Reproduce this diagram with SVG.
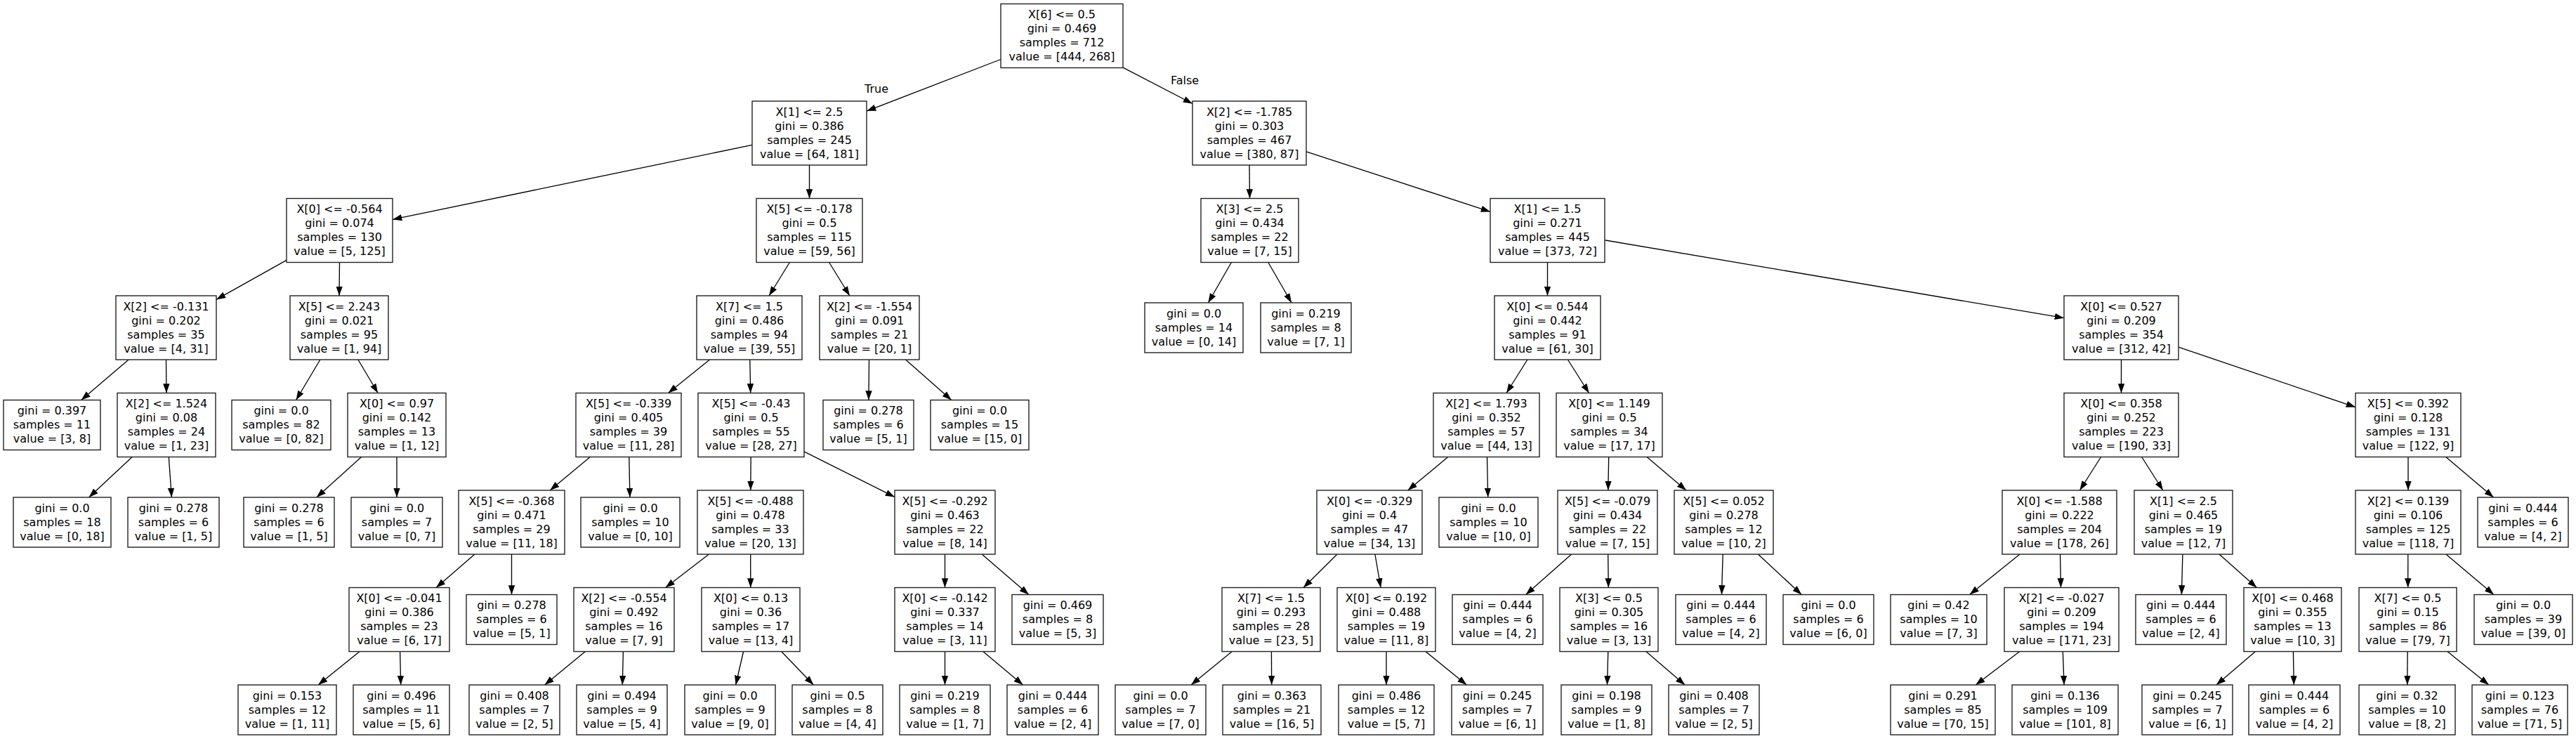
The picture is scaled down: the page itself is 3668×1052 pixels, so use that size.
<svg xmlns="http://www.w3.org/2000/svg" width="3668" height="1052" viewBox="0 0 3668 1052">
<style>
.n rect{fill:#fff;stroke:#222;stroke-width:1.4}
.t{font-family:"DejaVu Sans","Liberation Sans",sans-serif;font-size:16px;text-anchor:middle;fill:#000}
.e path{fill:none;stroke:#000;stroke-width:1.33;marker-end:url(#ah)}
</style>
<defs>
<marker id="ah" markerUnits="userSpaceOnUse" viewBox="0 0 14 10" markerWidth="14" markerHeight="10" refX="13.3" refY="5" orient="auto">
<path d="M0,0.3 L13.3,5 L0,9.7 z" fill="#000"/>
</marker>
</defs>
<rect width="3668" height="1052" fill="#fff"/>
<g id="edges" class="e">
<path d="M1425,84.5 L1234,158.1"/>
<path d="M1599,96.1 L1698,147.5"/>
<path d="M1071,206.4 L559,312.4"/>
<path d="M1152.5,235 L1152.5,282.5"/>
<path d="M408,370.3 L308,426.4"/>
<path d="M483.5,373.5 L483,421"/>
<path d="M183.1,512 L115.7,569.5"/>
<path d="M236.5,512 L237,559.5"/>
<path d="M188.2,650.5 L126.6,708"/>
<path d="M240.3,650.5 L244.4,708"/>
<path d="M455.9,512 L421.6,569.5"/>
<path d="M509.9,512 L538.1,559.5"/>
<path d="M514.6,650.5 L450.8,708"/>
<path d="M565,650.5 L565,708"/>
<path d="M1124.4,373.5 L1095.1,421"/>
<path d="M1180.6,373.5 L1209.9,421"/>
<path d="M1010.5,512 L951.5,559.5"/>
<path d="M1067.8,512 L1068.7,559.5"/>
<path d="M840.3,650.5 L783.2,698"/>
<path d="M895.8,650.5 L896.9,708"/>
<path d="M675.9,789 L621.1,836.5"/>
<path d="M728.5,789 L728.5,846.5"/>
<path d="M512,927.5 L453.1,975"/>
<path d="M569.6,927.5 L570.7,975"/>
<path d="M1069.2,650.5 L1068.8,698"/>
<path d="M1145,642.9 L1274,707.6"/>
<path d="M1009.4,789 L947.6,836.5"/>
<path d="M1068.7,789 L1068.8,836.5"/>
<path d="M833.3,927.5 L775.6,975"/>
<path d="M887.4,927.5 L886.3,975"/>
<path d="M1058.6,927.5 L1047.6,975"/>
<path d="M1112.7,927.5 L1158.4,975"/>
<path d="M1345.5,789 L1345.5,836.5"/>
<path d="M1398.2,789 L1464.9,846.5"/>
<path d="M1345.5,927.5 L1345.5,975"/>
<path d="M1399.9,927.5 L1456.6,975"/>
<path d="M1237.5,512 L1236.9,569.5"/>
<path d="M1289.6,512 L1354.8,569.5"/>
<path d="M1779,235 L1779.5,282.5"/>
<path d="M1860,215.9 L2122,301.4"/>
<path d="M1753.4,373.5 L1720.4,431"/>
<path d="M1805.8,373.5 L1839,431"/>
<path d="M2203.5,373.5 L2203.5,421"/>
<path d="M2285,341.8 L2939,452.7"/>
<path d="M2174.9,512 L2145.1,559.5"/>
<path d="M2232.4,512 L2262.6,559.5"/>
<path d="M2061.8,650.5 L2004.7,698"/>
<path d="M2117.5,650.5 L2118.7,708"/>
<path d="M1904,789 L1856,836.5"/>
<path d="M1957.9,789 L1966.1,836.5"/>
<path d="M1754.2,927.5 L1696,975"/>
<path d="M1810.4,927.5 L1810.7,975"/>
<path d="M1974,927.5 L1974,975"/>
<path d="M2029.9,927.5 L2088.4,975"/>
<path d="M2290.7,650.5 L2289.8,698"/>
<path d="M2345,650.5 L2401,698"/>
<path d="M2237.6,789 L2172.6,846.5"/>
<path d="M2289.7,789 L2290.3,836.5"/>
<path d="M2289.8,927.5 L2288.5,975"/>
<path d="M2343.9,927.5 L2399.2,975"/>
<path d="M2453.2,789 L2451.5,846.5"/>
<path d="M2503.4,789 L2565.3,846.5"/>
<path d="M3020.5,512 L3020.5,559.5"/>
<path d="M3102,494.1 L3354,579.6"/>
<path d="M2991.6,650.5 L2961.4,698"/>
<path d="M3049.6,650.5 L3079.9,698"/>
<path d="M2876,789 L2804.6,846.5"/>
<path d="M2933.5,789 L2934.5,836.5"/>
<path d="M2875.7,927.5 L2813.2,975"/>
<path d="M2937.3,927.5 L2939.1,975"/>
<path d="M3107.9,789 L3106.4,846.5"/>
<path d="M3160.1,789 L3213.4,836.5"/>
<path d="M3211.4,927.5 L3155.9,975"/>
<path d="M3265.4,927.5 L3266.3,975"/>
<path d="M3429,650.5 L3429,698"/>
<path d="M3482.7,650.5 L3550.6,708"/>
<path d="M3428.8,789 L3428.7,836.5"/>
<path d="M3482.9,789 L3551,846.5"/>
<path d="M3428.1,927.5 L3427.8,975"/>
<path d="M3485,927.5 L3543.9,975"/>
</g>
<g id="edge-labels" class="t">
<text x="1248" y="132">True</text>
<text x="1687" y="120">False</text>
</g>
<g id="node0" class="n"><rect x="1425" y="5.5" width="174" height="91"/><text class="t" x="1512" y="26"><tspan x="1512">X[6] &lt;= 0.5</tspan><tspan x="1512" dy="20">gini = 0.469</tspan><tspan x="1512" dy="20">samples = 712</tspan><tspan x="1512" dy="20">value = [444, 268]</tspan></text></g>
<g id="node1" class="n"><rect x="1071" y="144" width="163" height="91"/><text class="t" x="1152.5" y="164.5"><tspan x="1152.5">X[1] &lt;= 2.5</tspan><tspan x="1152.5" dy="20">gini = 0.386</tspan><tspan x="1152.5" dy="20">samples = 245</tspan><tspan x="1152.5" dy="20">value = [64, 181]</tspan></text></g>
<g id="node2" class="n"><rect x="408" y="282.5" width="151" height="91"/><text class="t" x="483.5" y="303"><tspan x="483.5">X[0] &lt;= -0.564</tspan><tspan x="483.5" dy="20">gini = 0.074</tspan><tspan x="483.5" dy="20">samples = 130</tspan><tspan x="483.5" dy="20">value = [5, 125]</tspan></text></g>
<g id="node3" class="n"><rect x="165" y="421" width="143" height="91"/><text class="t" x="236.5" y="441.5"><tspan x="236.5">X[2] &lt;= -0.131</tspan><tspan x="236.5" dy="20">gini = 0.202</tspan><tspan x="236.5" dy="20">samples = 35</tspan><tspan x="236.5" dy="20">value = [4, 31]</tspan></text></g>
<g id="node4" class="n"><rect x="5" y="569.5" width="138" height="71"/><text class="t" x="74" y="590"><tspan x="74">gini = 0.397</tspan><tspan x="74" dy="20">samples = 11</tspan><tspan x="74" dy="20">value = [3, 8]</tspan></text></g>
<g id="node5" class="n"><rect x="167" y="559.5" width="140" height="91"/><text class="t" x="237" y="580"><tspan x="237">X[2] &lt;= 1.524</tspan><tspan x="237" dy="20">gini = 0.08</tspan><tspan x="237" dy="20">samples = 24</tspan><tspan x="237" dy="20">value = [1, 23]</tspan></text></g>
<g id="node6" class="n"><rect x="19" y="708" width="139" height="71"/><text class="t" x="88.5" y="728.5"><tspan x="88.5">gini = 0.0</tspan><tspan x="88.5" dy="20">samples = 18</tspan><tspan x="88.5" dy="20">value = [0, 18]</tspan></text></g>
<g id="node7" class="n"><rect x="182" y="708" width="130" height="71"/><text class="t" x="247" y="728.5"><tspan x="247">gini = 0.278</tspan><tspan x="247" dy="20">samples = 6</tspan><tspan x="247" dy="20">value = [1, 5]</tspan></text></g>
<g id="node8" class="n"><rect x="413" y="421" width="140" height="91"/><text class="t" x="483" y="441.5"><tspan x="483">X[5] &lt;= 2.243</tspan><tspan x="483" dy="20">gini = 0.021</tspan><tspan x="483" dy="20">samples = 95</tspan><tspan x="483" dy="20">value = [1, 94]</tspan></text></g>
<g id="node9" class="n"><rect x="330" y="569.5" width="141" height="71"/><text class="t" x="400.5" y="590"><tspan x="400.5">gini = 0.0</tspan><tspan x="400.5" dy="20">samples = 82</tspan><tspan x="400.5" dy="20">value = [0, 82]</tspan></text></g>
<g id="node10" class="n"><rect x="495" y="559.5" width="140" height="91"/><text class="t" x="565" y="580"><tspan x="565">X[0] &lt;= 0.97</tspan><tspan x="565" dy="20">gini = 0.142</tspan><tspan x="565" dy="20">samples = 13</tspan><tspan x="565" dy="20">value = [1, 12]</tspan></text></g>
<g id="node11" class="n"><rect x="347" y="708" width="129" height="71"/><text class="t" x="411.5" y="728.5"><tspan x="411.5">gini = 0.278</tspan><tspan x="411.5" dy="20">samples = 6</tspan><tspan x="411.5" dy="20">value = [1, 5]</tspan></text></g>
<g id="node12" class="n"><rect x="500" y="708" width="130" height="71"/><text class="t" x="565" y="728.5"><tspan x="565">gini = 0.0</tspan><tspan x="565" dy="20">samples = 7</tspan><tspan x="565" dy="20">value = [0, 7]</tspan></text></g>
<g id="node13" class="n"><rect x="1077" y="282.5" width="151" height="91"/><text class="t" x="1152.5" y="303"><tspan x="1152.5">X[5] &lt;= -0.178</tspan><tspan x="1152.5" dy="20">gini = 0.5</tspan><tspan x="1152.5" dy="20">samples = 115</tspan><tspan x="1152.5" dy="20">value = [59, 56]</tspan></text></g>
<g id="node14" class="n"><rect x="992" y="421" width="150" height="91"/><text class="t" x="1067" y="441.5"><tspan x="1067">X[7] &lt;= 1.5</tspan><tspan x="1067" dy="20">gini = 0.486</tspan><tspan x="1067" dy="20">samples = 94</tspan><tspan x="1067" dy="20">value = [39, 55]</tspan></text></g>
<g id="node15" class="n"><rect x="820" y="559.5" width="150" height="91"/><text class="t" x="895" y="580"><tspan x="895">X[5] &lt;= -0.339</tspan><tspan x="895" dy="20">gini = 0.405</tspan><tspan x="895" dy="20">samples = 39</tspan><tspan x="895" dy="20">value = [11, 28]</tspan></text></g>
<g id="node16" class="n"><rect x="653" y="698" width="151" height="91"/><text class="t" x="728.5" y="718.5"><tspan x="728.5">X[5] &lt;= -0.368</tspan><tspan x="728.5" dy="20">gini = 0.471</tspan><tspan x="728.5" dy="20">samples = 29</tspan><tspan x="728.5" dy="20">value = [11, 18]</tspan></text></g>
<g id="node17" class="n"><rect x="497" y="836.5" width="143" height="91"/><text class="t" x="568.5" y="857"><tspan x="568.5">X[0] &lt;= -0.041</tspan><tspan x="568.5" dy="20">gini = 0.386</tspan><tspan x="568.5" dy="20">samples = 23</tspan><tspan x="568.5" dy="20">value = [6, 17]</tspan></text></g>
<g id="node18" class="n"><rect x="339" y="975" width="140" height="71"/><text class="t" x="409" y="995.5"><tspan x="409">gini = 0.153</tspan><tspan x="409" dy="20">samples = 12</tspan><tspan x="409" dy="20">value = [1, 11]</tspan></text></g>
<g id="node19" class="n"><rect x="503" y="975" width="137" height="71"/><text class="t" x="571.5" y="995.5"><tspan x="571.5">gini = 0.496</tspan><tspan x="571.5" dy="20">samples = 11</tspan><tspan x="571.5" dy="20">value = [5, 6]</tspan></text></g>
<g id="node20" class="n"><rect x="664" y="846.5" width="129" height="71"/><text class="t" x="728.5" y="867"><tspan x="728.5">gini = 0.278</tspan><tspan x="728.5" dy="20">samples = 6</tspan><tspan x="728.5" dy="20">value = [5, 1]</tspan></text></g>
<g id="node21" class="n"><rect x="827" y="708" width="141" height="71"/><text class="t" x="897.5" y="728.5"><tspan x="897.5">gini = 0.0</tspan><tspan x="897.5" dy="20">samples = 10</tspan><tspan x="897.5" dy="20">value = [0, 10]</tspan></text></g>
<g id="node22" class="n"><rect x="994" y="559.5" width="151" height="91"/><text class="t" x="1069.5" y="580"><tspan x="1069.5">X[5] &lt;= -0.43</tspan><tspan x="1069.5" dy="20">gini = 0.5</tspan><tspan x="1069.5" dy="20">samples = 55</tspan><tspan x="1069.5" dy="20">value = [28, 27]</tspan></text></g>
<g id="node23" class="n"><rect x="993" y="698" width="151" height="91"/><text class="t" x="1068.5" y="718.5"><tspan x="1068.5">X[5] &lt;= -0.488</tspan><tspan x="1068.5" dy="20">gini = 0.478</tspan><tspan x="1068.5" dy="20">samples = 33</tspan><tspan x="1068.5" dy="20">value = [20, 13]</tspan></text></g>
<g id="node24" class="n"><rect x="817" y="836.5" width="143" height="91"/><text class="t" x="888.5" y="857"><tspan x="888.5">X[2] &lt;= -0.554</tspan><tspan x="888.5" dy="20">gini = 0.492</tspan><tspan x="888.5" dy="20">samples = 16</tspan><tspan x="888.5" dy="20">value = [7, 9]</tspan></text></g>
<g id="node25" class="n"><rect x="668" y="975" width="129" height="71"/><text class="t" x="732.5" y="995.5"><tspan x="732.5">gini = 0.408</tspan><tspan x="732.5" dy="20">samples = 7</tspan><tspan x="732.5" dy="20">value = [2, 5]</tspan></text></g>
<g id="node26" class="n"><rect x="821" y="975" width="129" height="71"/><text class="t" x="885.5" y="995.5"><tspan x="885.5">gini = 0.494</tspan><tspan x="885.5" dy="20">samples = 9</tspan><tspan x="885.5" dy="20">value = [5, 4]</tspan></text></g>
<g id="node27" class="n"><rect x="999" y="836.5" width="140" height="91"/><text class="t" x="1069" y="857"><tspan x="1069">X[0] &lt;= 0.13</tspan><tspan x="1069" dy="20">gini = 0.36</tspan><tspan x="1069" dy="20">samples = 17</tspan><tspan x="1069" dy="20">value = [13, 4]</tspan></text></g>
<g id="node28" class="n"><rect x="975" y="975" width="129" height="71"/><text class="t" x="1039.5" y="995.5"><tspan x="1039.5">gini = 0.0</tspan><tspan x="1039.5" dy="20">samples = 9</tspan><tspan x="1039.5" dy="20">value = [9, 0]</tspan></text></g>
<g id="node29" class="n"><rect x="1128" y="975" width="129" height="71"/><text class="t" x="1192.5" y="995.5"><tspan x="1192.5">gini = 0.5</tspan><tspan x="1192.5" dy="20">samples = 8</tspan><tspan x="1192.5" dy="20">value = [4, 4]</tspan></text></g>
<g id="node30" class="n"><rect x="1274" y="698" width="143" height="91"/><text class="t" x="1345.5" y="718.5"><tspan x="1345.5">X[5] &lt;= -0.292</tspan><tspan x="1345.5" dy="20">gini = 0.463</tspan><tspan x="1345.5" dy="20">samples = 22</tspan><tspan x="1345.5" dy="20">value = [8, 14]</tspan></text></g>
<g id="node31" class="n"><rect x="1274" y="836.5" width="143" height="91"/><text class="t" x="1345.5" y="857"><tspan x="1345.5">X[0] &lt;= -0.142</tspan><tspan x="1345.5" dy="20">gini = 0.337</tspan><tspan x="1345.5" dy="20">samples = 14</tspan><tspan x="1345.5" dy="20">value = [3, 11]</tspan></text></g>
<g id="node32" class="n"><rect x="1281" y="975" width="129" height="71"/><text class="t" x="1345.5" y="995.5"><tspan x="1345.5">gini = 0.219</tspan><tspan x="1345.5" dy="20">samples = 8</tspan><tspan x="1345.5" dy="20">value = [1, 7]</tspan></text></g>
<g id="node33" class="n"><rect x="1434" y="975" width="130" height="71"/><text class="t" x="1499" y="995.5"><tspan x="1499">gini = 0.444</tspan><tspan x="1499" dy="20">samples = 6</tspan><tspan x="1499" dy="20">value = [2, 4]</tspan></text></g>
<g id="node34" class="n"><rect x="1441" y="846.5" width="130" height="71"/><text class="t" x="1506" y="867"><tspan x="1506">gini = 0.469</tspan><tspan x="1506" dy="20">samples = 8</tspan><tspan x="1506" dy="20">value = [5, 3]</tspan></text></g>
<g id="node35" class="n"><rect x="1167" y="421" width="142" height="91"/><text class="t" x="1238" y="441.5"><tspan x="1238">X[2] &lt;= -1.554</tspan><tspan x="1238" dy="20">gini = 0.091</tspan><tspan x="1238" dy="20">samples = 21</tspan><tspan x="1238" dy="20">value = [20, 1]</tspan></text></g>
<g id="node36" class="n"><rect x="1172" y="569.5" width="129" height="71"/><text class="t" x="1236.5" y="590"><tspan x="1236.5">gini = 0.278</tspan><tspan x="1236.5" dy="20">samples = 6</tspan><tspan x="1236.5" dy="20">value = [5, 1]</tspan></text></g>
<g id="node37" class="n"><rect x="1325" y="569.5" width="140" height="71"/><text class="t" x="1395" y="590"><tspan x="1395">gini = 0.0</tspan><tspan x="1395" dy="20">samples = 15</tspan><tspan x="1395" dy="20">value = [15, 0]</tspan></text></g>
<g id="node38" class="n"><rect x="1698" y="144" width="162" height="91"/><text class="t" x="1779" y="164.5"><tspan x="1779">X[2] &lt;= -1.785</tspan><tspan x="1779" dy="20">gini = 0.303</tspan><tspan x="1779" dy="20">samples = 467</tspan><tspan x="1779" dy="20">value = [380, 87]</tspan></text></g>
<g id="node39" class="n"><rect x="1710" y="282.5" width="139" height="91"/><text class="t" x="1779.5" y="303"><tspan x="1779.5">X[3] &lt;= 2.5</tspan><tspan x="1779.5" dy="20">gini = 0.434</tspan><tspan x="1779.5" dy="20">samples = 22</tspan><tspan x="1779.5" dy="20">value = [7, 15]</tspan></text></g>
<g id="node40" class="n"><rect x="1630" y="431" width="140" height="71"/><text class="t" x="1700" y="451.5"><tspan x="1700">gini = 0.0</tspan><tspan x="1700" dy="20">samples = 14</tspan><tspan x="1700" dy="20">value = [0, 14]</tspan></text></g>
<g id="node41" class="n"><rect x="1795" y="431" width="129" height="71"/><text class="t" x="1859.5" y="451.5"><tspan x="1859.5">gini = 0.219</tspan><tspan x="1859.5" dy="20">samples = 8</tspan><tspan x="1859.5" dy="20">value = [7, 1]</tspan></text></g>
<g id="node42" class="n"><rect x="2122" y="282.5" width="163" height="91"/><text class="t" x="2203.5" y="303"><tspan x="2203.5">X[1] &lt;= 1.5</tspan><tspan x="2203.5" dy="20">gini = 0.271</tspan><tspan x="2203.5" dy="20">samples = 445</tspan><tspan x="2203.5" dy="20">value = [373, 72]</tspan></text></g>
<g id="node43" class="n"><rect x="2128" y="421" width="151" height="91"/><text class="t" x="2203.5" y="441.5"><tspan x="2203.5">X[0] &lt;= 0.544</tspan><tspan x="2203.5" dy="20">gini = 0.442</tspan><tspan x="2203.5" dy="20">samples = 91</tspan><tspan x="2203.5" dy="20">value = [61, 30]</tspan></text></g>
<g id="node44" class="n"><rect x="2041" y="559.5" width="151" height="91"/><text class="t" x="2116.5" y="580"><tspan x="2116.5">X[2] &lt;= 1.793</tspan><tspan x="2116.5" dy="20">gini = 0.352</tspan><tspan x="2116.5" dy="20">samples = 57</tspan><tspan x="2116.5" dy="20">value = [44, 13]</tspan></text></g>
<g id="node45" class="n"><rect x="1875" y="698" width="150" height="91"/><text class="t" x="1950" y="718.5"><tspan x="1950">X[0] &lt;= -0.329</tspan><tspan x="1950" dy="20">gini = 0.4</tspan><tspan x="1950" dy="20">samples = 47</tspan><tspan x="1950" dy="20">value = [34, 13]</tspan></text></g>
<g id="node46" class="n"><rect x="1740" y="836.5" width="140" height="91"/><text class="t" x="1810" y="857"><tspan x="1810">X[7] &lt;= 1.5</tspan><tspan x="1810" dy="20">gini = 0.293</tspan><tspan x="1810" dy="20">samples = 28</tspan><tspan x="1810" dy="20">value = [23, 5]</tspan></text></g>
<g id="node47" class="n"><rect x="1588" y="975" width="129" height="71"/><text class="t" x="1652.5" y="995.5"><tspan x="1652.5">gini = 0.0</tspan><tspan x="1652.5" dy="20">samples = 7</tspan><tspan x="1652.5" dy="20">value = [7, 0]</tspan></text></g>
<g id="node48" class="n"><rect x="1741" y="975" width="140" height="71"/><text class="t" x="1811" y="995.5"><tspan x="1811">gini = 0.363</tspan><tspan x="1811" dy="20">samples = 21</tspan><tspan x="1811" dy="20">value = [16, 5]</tspan></text></g>
<g id="node49" class="n"><rect x="1904" y="836.5" width="140" height="91"/><text class="t" x="1974" y="857"><tspan x="1974">X[0] &lt;= 0.192</tspan><tspan x="1974" dy="20">gini = 0.488</tspan><tspan x="1974" dy="20">samples = 19</tspan><tspan x="1974" dy="20">value = [11, 8]</tspan></text></g>
<g id="node50" class="n"><rect x="1906" y="975" width="136" height="71"/><text class="t" x="1974" y="995.5"><tspan x="1974">gini = 0.486</tspan><tspan x="1974" dy="20">samples = 12</tspan><tspan x="1974" dy="20">value = [5, 7]</tspan></text></g>
<g id="node51" class="n"><rect x="2067" y="975" width="130" height="71"/><text class="t" x="2132" y="995.5"><tspan x="2132">gini = 0.245</tspan><tspan x="2132" dy="20">samples = 7</tspan><tspan x="2132" dy="20">value = [6, 1]</tspan></text></g>
<g id="node52" class="n"><rect x="2049" y="708" width="141" height="71"/><text class="t" x="2119.5" y="728.5"><tspan x="2119.5">gini = 0.0</tspan><tspan x="2119.5" dy="20">samples = 10</tspan><tspan x="2119.5" dy="20">value = [10, 0]</tspan></text></g>
<g id="node53" class="n"><rect x="2216" y="559.5" width="151" height="91"/><text class="t" x="2291.5" y="580"><tspan x="2291.5">X[0] &lt;= 1.149</tspan><tspan x="2291.5" dy="20">gini = 0.5</tspan><tspan x="2291.5" dy="20">samples = 34</tspan><tspan x="2291.5" dy="20">value = [17, 17]</tspan></text></g>
<g id="node54" class="n"><rect x="2218" y="698" width="142" height="91"/><text class="t" x="2289" y="718.5"><tspan x="2289">X[5] &lt;= -0.079</tspan><tspan x="2289" dy="20">gini = 0.434</tspan><tspan x="2289" dy="20">samples = 22</tspan><tspan x="2289" dy="20">value = [7, 15]</tspan></text></g>
<g id="node55" class="n"><rect x="2068" y="846.5" width="129" height="71"/><text class="t" x="2132.5" y="867"><tspan x="2132.5">gini = 0.444</tspan><tspan x="2132.5" dy="20">samples = 6</tspan><tspan x="2132.5" dy="20">value = [4, 2]</tspan></text></g>
<g id="node56" class="n"><rect x="2221" y="836.5" width="140" height="91"/><text class="t" x="2291" y="857"><tspan x="2291">X[3] &lt;= 0.5</tspan><tspan x="2291" dy="20">gini = 0.305</tspan><tspan x="2291" dy="20">samples = 16</tspan><tspan x="2291" dy="20">value = [3, 13]</tspan></text></g>
<g id="node57" class="n"><rect x="2223" y="975" width="129" height="71"/><text class="t" x="2287.5" y="995.5"><tspan x="2287.5">gini = 0.198</tspan><tspan x="2287.5" dy="20">samples = 9</tspan><tspan x="2287.5" dy="20">value = [1, 8]</tspan></text></g>
<g id="node58" class="n"><rect x="2376" y="975" width="129" height="71"/><text class="t" x="2440.5" y="995.5"><tspan x="2440.5">gini = 0.408</tspan><tspan x="2440.5" dy="20">samples = 7</tspan><tspan x="2440.5" dy="20">value = [2, 5]</tspan></text></g>
<g id="node59" class="n"><rect x="2384" y="698" width="141" height="91"/><text class="t" x="2454.5" y="718.5"><tspan x="2454.5">X[5] &lt;= 0.052</tspan><tspan x="2454.5" dy="20">gini = 0.278</tspan><tspan x="2454.5" dy="20">samples = 12</tspan><tspan x="2454.5" dy="20">value = [10, 2]</tspan></text></g>
<g id="node60" class="n"><rect x="2386" y="846.5" width="129" height="71"/><text class="t" x="2450.5" y="867"><tspan x="2450.5">gini = 0.444</tspan><tspan x="2450.5" dy="20">samples = 6</tspan><tspan x="2450.5" dy="20">value = [4, 2]</tspan></text></g>
<g id="node61" class="n"><rect x="2539" y="846.5" width="129" height="71"/><text class="t" x="2603.5" y="867"><tspan x="2603.5">gini = 0.0</tspan><tspan x="2603.5" dy="20">samples = 6</tspan><tspan x="2603.5" dy="20">value = [6, 0]</tspan></text></g>
<g id="node62" class="n"><rect x="2939" y="421" width="163" height="91"/><text class="t" x="3020.5" y="441.5"><tspan x="3020.5">X[0] &lt;= 0.527</tspan><tspan x="3020.5" dy="20">gini = 0.209</tspan><tspan x="3020.5" dy="20">samples = 354</tspan><tspan x="3020.5" dy="20">value = [312, 42]</tspan></text></g>
<g id="node63" class="n"><rect x="2939" y="559.5" width="163" height="91"/><text class="t" x="3020.5" y="580"><tspan x="3020.5">X[0] &lt;= 0.358</tspan><tspan x="3020.5" dy="20">gini = 0.252</tspan><tspan x="3020.5" dy="20">samples = 223</tspan><tspan x="3020.5" dy="20">value = [190, 33]</tspan></text></g>
<g id="node64" class="n"><rect x="2851" y="698" width="163" height="91"/><text class="t" x="2932.5" y="718.5"><tspan x="2932.5">X[0] &lt;= -1.588</tspan><tspan x="2932.5" dy="20">gini = 0.222</tspan><tspan x="2932.5" dy="20">samples = 204</tspan><tspan x="2932.5" dy="20">value = [178, 26]</tspan></text></g>
<g id="node65" class="n"><rect x="2692" y="846.5" width="137" height="71"/><text class="t" x="2760.5" y="867"><tspan x="2760.5">gini = 0.42</tspan><tspan x="2760.5" dy="20">samples = 10</tspan><tspan x="2760.5" dy="20">value = [7, 3]</tspan></text></g>
<g id="node66" class="n"><rect x="2854" y="836.5" width="163" height="91"/><text class="t" x="2935.5" y="857"><tspan x="2935.5">X[2] &lt;= -0.027</tspan><tspan x="2935.5" dy="20">gini = 0.209</tspan><tspan x="2935.5" dy="20">samples = 194</tspan><tspan x="2935.5" dy="20">value = [171, 23]</tspan></text></g>
<g id="node67" class="n"><rect x="2692" y="975" width="149" height="71"/><text class="t" x="2766.5" y="995.5"><tspan x="2766.5">gini = 0.291</tspan><tspan x="2766.5" dy="20">samples = 85</tspan><tspan x="2766.5" dy="20">value = [70, 15]</tspan></text></g>
<g id="node68" class="n"><rect x="2865" y="975" width="151" height="71"/><text class="t" x="2940.5" y="995.5"><tspan x="2940.5">gini = 0.136</tspan><tspan x="2940.5" dy="20">samples = 109</tspan><tspan x="2940.5" dy="20">value = [101, 8]</tspan></text></g>
<g id="node69" class="n"><rect x="3039" y="698" width="140" height="91"/><text class="t" x="3109" y="718.5"><tspan x="3109">X[1] &lt;= 2.5</tspan><tspan x="3109" dy="20">gini = 0.465</tspan><tspan x="3109" dy="20">samples = 19</tspan><tspan x="3109" dy="20">value = [12, 7]</tspan></text></g>
<g id="node70" class="n"><rect x="3041" y="846.5" width="129" height="71"/><text class="t" x="3105.5" y="867"><tspan x="3105.5">gini = 0.444</tspan><tspan x="3105.5" dy="20">samples = 6</tspan><tspan x="3105.5" dy="20">value = [2, 4]</tspan></text></g>
<g id="node71" class="n"><rect x="3195" y="836.5" width="139" height="91"/><text class="t" x="3264.5" y="857"><tspan x="3264.5">X[0] &lt;= 0.468</tspan><tspan x="3264.5" dy="20">gini = 0.355</tspan><tspan x="3264.5" dy="20">samples = 13</tspan><tspan x="3264.5" dy="20">value = [10, 3]</tspan></text></g>
<g id="node72" class="n"><rect x="3050" y="975" width="129" height="71"/><text class="t" x="3114.5" y="995.5"><tspan x="3114.5">gini = 0.245</tspan><tspan x="3114.5" dy="20">samples = 7</tspan><tspan x="3114.5" dy="20">value = [6, 1]</tspan></text></g>
<g id="node73" class="n"><rect x="3202" y="975" width="130" height="71"/><text class="t" x="3267" y="995.5"><tspan x="3267">gini = 0.444</tspan><tspan x="3267" dy="20">samples = 6</tspan><tspan x="3267" dy="20">value = [4, 2]</tspan></text></g>
<g id="node74" class="n"><rect x="3354" y="559.5" width="150" height="91"/><text class="t" x="3429" y="580"><tspan x="3429">X[5] &lt;= 0.392</tspan><tspan x="3429" dy="20">gini = 0.128</tspan><tspan x="3429" dy="20">samples = 131</tspan><tspan x="3429" dy="20">value = [122, 9]</tspan></text></g>
<g id="node75" class="n"><rect x="3354" y="698" width="150" height="91"/><text class="t" x="3429" y="718.5"><tspan x="3429">X[2] &lt;= 0.139</tspan><tspan x="3429" dy="20">gini = 0.106</tspan><tspan x="3429" dy="20">samples = 125</tspan><tspan x="3429" dy="20">value = [118, 7]</tspan></text></g>
<g id="node76" class="n"><rect x="3359" y="836.5" width="139" height="91"/><text class="t" x="3428.5" y="857"><tspan x="3428.5">X[7] &lt;= 0.5</tspan><tspan x="3428.5" dy="20">gini = 0.15</tspan><tspan x="3428.5" dy="20">samples = 86</tspan><tspan x="3428.5" dy="20">value = [79, 7]</tspan></text></g>
<g id="node77" class="n"><rect x="3359" y="975" width="137" height="71"/><text class="t" x="3427.5" y="995.5"><tspan x="3427.5">gini = 0.32</tspan><tspan x="3427.5" dy="20">samples = 10</tspan><tspan x="3427.5" dy="20">value = [8, 2]</tspan></text></g>
<g id="node78" class="n"><rect x="3520" y="975" width="136" height="71"/><text class="t" x="3588" y="995.5"><tspan x="3588">gini = 0.123</tspan><tspan x="3588" dy="20">samples = 76</tspan><tspan x="3588" dy="20">value = [71, 5]</tspan></text></g>
<g id="node79" class="n"><rect x="3523" y="846.5" width="140" height="71"/><text class="t" x="3593" y="867"><tspan x="3593">gini = 0.0</tspan><tspan x="3593" dy="20">samples = 39</tspan><tspan x="3593" dy="20">value = [39, 0]</tspan></text></g>
<g id="node80" class="n"><rect x="3528" y="708" width="129" height="71"/><text class="t" x="3592.5" y="728.5"><tspan x="3592.5">gini = 0.444</tspan><tspan x="3592.5" dy="20">samples = 6</tspan><tspan x="3592.5" dy="20">value = [4, 2]</tspan></text></g>
</svg>
